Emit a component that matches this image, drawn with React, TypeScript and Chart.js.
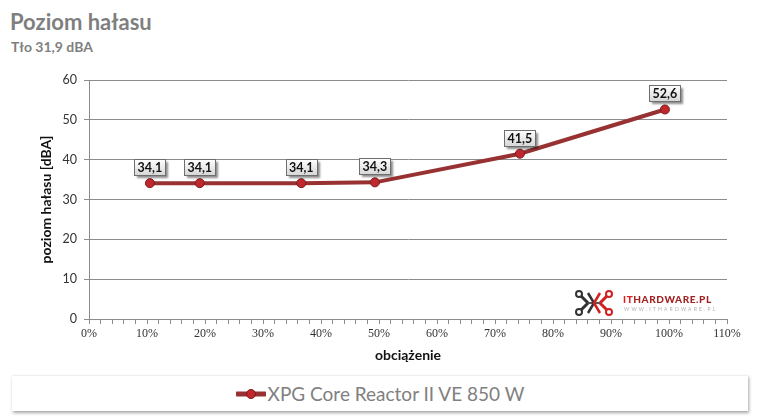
import React, { useEffect, useRef } from 'react';
import { Chart, registerables } from 'chart.js';

Chart.register(...registerables);

const TITLE = 'Poziom hałasu';
const SUBTITLE = 'Tło 31,9 dBA';
const SERIES_NAME = 'XPG Core Reactor II VE 850 W';
const X_TITLE = 'obciążenie';
const Y_TITLE = 'poziom hałasu [dBA]';

const LOAD_PCT = [10.5, 19.1, 36.6, 49.3, 74.3, 99.3];
const NOISE_DBA = [34.1, 34.1, 34.1, 34.3, 41.5, 52.6];

const X_MIN = 0;
const X_MAX = 110;
const X_MAJOR = 10;
const X_MINOR = 2;
const Y_MIN = 0;
const Y_MAX = 60;
const Y_STEP = 10;

const LINE_COLOR = '#983232';
const POINT_FILL = '#c0282d';
const POINT_BORDER = '#7a1c1c';
const GRID_COLOR = '#8c8c8c';

const fmt = (v: number) => v.toFixed(1).replace('.', ',');

const valueBoxes = {
  id: 'valueBoxes',
  afterDatasetsDraw(chart: any) {
    const ctx = chart.ctx as CanvasRenderingContext2D;
    const meta = chart.getDatasetMeta(0);
    ctx.save();
    ctx.font = 'bold 12.5px Lato';
    meta.data.forEach((pt: any, i: number) => {
      const txt = fmt(NOISE_DBA[i]);
      const w = Math.round(ctx.measureText(txt).width) + 6;
      const h = 16;
      const x = Math.round(pt.x - w / 2) + 0.5;
      const y = Math.round(pt.y - 8 - h) + 0.5;
      ctx.save();
      ctx.shadowColor = 'rgba(0,0,0,0.45)';
      ctx.shadowOffsetX = 2;
      ctx.shadowOffsetY = 2;
      ctx.shadowBlur = 2;
      const g = ctx.createLinearGradient(0, y, 0, y + h);
      g.addColorStop(0, '#ffffff');
      g.addColorStop(1, '#d6d6d6');
      ctx.fillStyle = g;
      ctx.fillRect(x, y, w, h);
      ctx.restore();
      ctx.strokeStyle = '#6e6e6e';
      ctx.lineWidth = 1;
      ctx.strokeRect(x, y, w, h);
      ctx.fillStyle = '#111111';
      ctx.textAlign = 'center';
      ctx.textBaseline = 'middle';
      ctx.fillText(txt, pt.x, y + h / 2 + 0.5);
    });
    ctx.restore();
  },
};

function NoiseChart() {
  const ref = useRef<HTMLCanvasElement | null>(null);
  useEffect(() => {
    if (!ref.current) return;
    const chart = new Chart(ref.current, {
      type: 'line',
      data: {
        datasets: [
          {
            label: SERIES_NAME,
            data: LOAD_PCT.map((x, i) => ({ x, y: NOISE_DBA[i] })),
            borderColor: LINE_COLOR,
            borderWidth: 4,
            pointRadius: 4.5,
            pointBackgroundColor: POINT_FILL,
            pointBorderColor: POINT_BORDER,
            pointBorderWidth: 1,
            tension: 0,
            fill: false,
          },
        ],
      },
      options: {
        animation: false,
        responsive: false,
        devicePixelRatio: 1,
        layout: { padding: { top: 20, right: 30, left: 0, bottom: 0 } },
        plugins: {
          legend: { display: false },
          tooltip: { enabled: false },
          title: { display: false },
        },
        scales: {
          x: {
            type: 'linear',
            min: X_MIN,
            max: X_MAX,
            afterFit: (s: any) => {
              s.height = 51;
            },
            ticks: {
              stepSize: X_MINOR,
              autoSkip: false,
              maxRotation: 0,
              padding: 3,
              color: '#333333',
              font: { family: "'Liberation Serif', 'Times New Roman', serif", size: 12 },
              callback: (v: any) => (Number(v) % X_MAJOR === 0 ? `${v}%` : ''),
            },
            grid: {
              drawOnChartArea: false,
              drawTicks: true,
              tickLength: 5,
              color: GRID_COLOR,
            },
            border: { display: true, color: GRID_COLOR },
            title: {
              display: true,
              text: X_TITLE,
              color: '#111111',
              font: { family: 'Lato', size: 14, weight: 'bold' },
              padding: { top: 0, bottom: 6 },
            },
          },
          y: {
            type: 'linear',
            min: Y_MIN,
            max: Y_MAX,
            afterFit: (s: any) => {
              s.width = 89;
            },
            ticks: {
              stepSize: Y_STEP,
              padding: 7,
              color: '#333333',
              font: { family: 'Lato', size: 12.5 },
            },
            grid: {
              color: GRID_COLOR,
              tickLength: 5,
            },
            border: { display: true, color: GRID_COLOR },
            title: {
              display: true,
              text: Y_TITLE,
              color: '#111111',
              font: { family: 'Lato', size: 14, weight: 'bold' },
              padding: { top: 38, bottom: 0 },
            },
          },
        },
      },
      plugins: [valueBoxes],
    } as any);
    return () => chart.destroy();
  }, []);
  return (
    <canvas
      ref={ref}
      width={757}
      height={310}
      style={{ position: 'absolute', left: 0, top: 60, width: 757, height: 310 }}
    />
  );
}

function Logo() {
  return (
    <div style={{ position: 'absolute', left: 574, top: 289, width: 150, height: 30 }}>
      <svg width="40" height="28" style={{ position: 'absolute', left: 0, top: 0 }}>
        <polyline points="5,5 14,14 5,23" fill="none" stroke="#333" strokeWidth="3" />
        <polyline points="35,5 26,14 35,23" fill="none" stroke="#d02020" strokeWidth="3" />
        <line x1="14" y1="14" x2="26" y2="14" stroke="#555" strokeWidth="2" />
        <polyline points="14,4 20,14 14,24" fill="none" stroke="#333" strokeWidth="2.5" />
        <polyline points="26,4 20,14 26,24" fill="none" stroke="#d02020" strokeWidth="2.5" />
        <circle cx="5" cy="5" r="3" fill="#fff" stroke="#333" strokeWidth="2" />
        <circle cx="5" cy="23" r="3" fill="#fff" stroke="#333" strokeWidth="2" />
        <circle cx="35" cy="5" r="3" fill="#fff" stroke="#d02020" strokeWidth="2" />
        <circle cx="35" cy="23" r="3" fill="#fff" stroke="#d02020" strokeWidth="2" />
      </svg>
      <div
        style={{
          position: 'absolute',
          left: 49,
          top: 5,
          fontFamily: 'Lato',
          fontWeight: 900,
          fontSize: 10,
          letterSpacing: 0.6,
          lineHeight: '10px',
          whiteSpace: 'nowrap',
        }}
      >
        <span style={{ color: '#e02020' }}>IT</span>
        <span style={{ color: '#a52222' }}>HARDWARE.PL</span>
      </div>
      <div
        style={{
          position: 'absolute',
          left: 50,
          top: 17,
          fontFamily: 'Lato',
          fontSize: 5,
          letterSpacing: 2.2,
          color: '#b0b0b0',
          lineHeight: '6px',
          whiteSpace: 'nowrap',
        }}
      >
        WWW.ITHARDWARE.PL
      </div>
    </div>
  );
}

export default function App() {
  return (
    <div
      style={{
        position: 'absolute',
        left: 0,
        top: 0,
        width: 757,
        height: 417,
        background: '#ffffff',
        overflow: 'hidden',
      }}
    >
      <div
        style={{
          position: 'absolute',
          left: 10,
          top: 10,
          fontFamily: 'Lato',
          fontWeight: 700,
          fontSize: 22,
          lineHeight: '24px',
          color: '#7f7f7f',
          whiteSpace: 'nowrap',
        }}
      >
        {TITLE}
      </div>
      <div
        style={{
          position: 'absolute',
          left: 11,
          top: 39,
          fontFamily: 'Lato',
          fontWeight: 700,
          fontSize: 14,
          lineHeight: '16px',
          color: '#7f7f7f',
          whiteSpace: 'nowrap',
        }}
      >
        {SUBTITLE}
      </div>
      <NoiseChart />
      <Logo />
      <div
        style={{
          position: 'absolute',
          left: 12,
          top: 375,
          width: 736,
          height: 35,
          background: '#ffffff',
          borderTop: '1px solid #f0f0f0',
          boxShadow: '1px 2px 3px rgba(0,0,0,0.35)',
          display: 'flex',
          alignItems: 'center',
          justifyContent: 'center',
        }}
      >
        <svg width="30" height="12" style={{ marginRight: 2 }}>
          <line x1="1" y1="6" x2="29" y2="6" stroke={LINE_COLOR} strokeWidth="5" strokeLinecap="round" />
          <circle cx="15" cy="6" r="4.5" fill={POINT_FILL} stroke={POINT_BORDER} strokeWidth="1" />
        </svg>
        <span
          style={{
            fontFamily: 'Lato',
            fontSize: 19,
            color: '#808080',
            whiteSpace: 'nowrap',
            lineHeight: '20px',
          }}
        >
          {SERIES_NAME}
        </span>
      </div>
    </div>
  );
}
